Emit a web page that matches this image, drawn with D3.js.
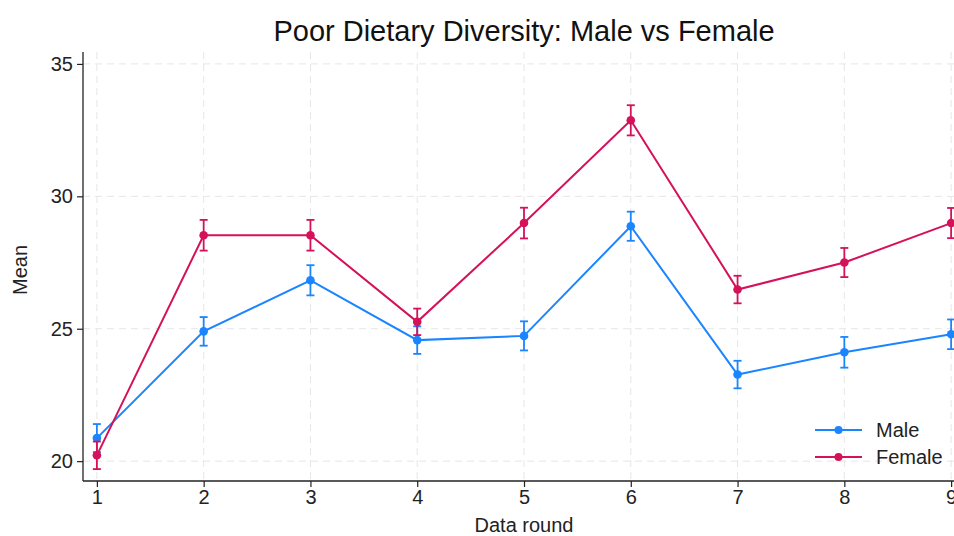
<!DOCTYPE html>
<html>
<head>
<meta charset="utf-8">
<script src="https://cdn.jsdelivr.net/npm/d3@7"></script>
<style>
  html, body { margin: 0; padding: 0; background: #fff; }
  svg { display: block; font-family: "Liberation Sans", Arial, sans-serif; }
</style>
</head>
<body>
<svg id="chart" width="954" height="536"></svg>
<script>
// Survey rounds and mean poor-dietary-diversity scores by sex, with CI half-widths
const rounds = [1, 2, 3, 4, 5, 6, 7, 8, 9];
const maleMean = [20.87, 24.9, 26.83, 24.57, 24.73, 28.87, 23.27, 24.11, 24.79];
const maleErr = [0.53, 0.54, 0.57, 0.52, 0.55, 0.55, 0.52, 0.58, 0.56];
const femaleMean = [20.22, 28.53, 28.53, 25.26, 28.99, 32.87, 26.48, 27.5, 28.99];
const femaleErr = [0.52, 0.58, 0.58, 0.5, 0.58, 0.57, 0.52, 0.55, 0.57];
const yTicks = [20, 25, 30, 35];
const seriesNames = ["Male", "Female"];
const seriesColors = ["#1a85ff", "#d41159"];

const svg = d3.select("#chart");
const margin = { left: 83, top: 52, bottom: 481, right: 965 };

const x = d3.scaleLinear().domain([0.87, 9.13]).range([margin.left, margin.right]);
const y = d3.scaleLinear().domain([19.25, 35.45]).range([margin.bottom, margin.top]);

const series = [
  { name: seriesNames[0], color: seriesColors[0], mean: maleMean, err: maleErr },
  { name: seriesNames[1], color: seriesColors[1], mean: femaleMean, err: femaleErr }
];

// grid
const grid = svg.append("g").attr("stroke", "#e6e6e6").attr("stroke-width", 1)
  .attr("stroke-dasharray", "7,5");
grid.selectAll(".gy").data(yTicks).join("line")
  .attr("x1", margin.left).attr("x2", 954)
  .attr("y1", d => y(d)).attr("y2", d => y(d));
grid.selectAll(".gx").data(rounds).join("line")
  .attr("x1", d => x(d)).attr("x2", d => x(d))
  .attr("y1", margin.top).attr("y2", margin.bottom);

// axes
const yAxis = d3.axisLeft(y).tickValues(yTicks).tickSize(6).tickPadding(4);
const gy = svg.append("g").attr("transform", `translate(${margin.left},0)`).call(yAxis);
const xAxis = d3.axisBottom(x).tickValues(rounds).tickSize(6).tickPadding(3);
const gx = svg.append("g").attr("transform", `translate(0,${margin.bottom})`).call(xAxis);
[gx, gy].forEach(g => {
  g.select(".domain").attr("stroke", "#222").attr("stroke-width", 1.3);
  g.selectAll(".tick line").attr("stroke", "#222").attr("stroke-width", 1.2);
  g.selectAll(".tick text").attr("fill", "#222").attr("font-size", 20)
    .attr("font-family", "Liberation Sans, Arial, sans-serif");
});
gy.select(".domain").attr("d", `M0,${margin.top}V${margin.bottom}`);
gx.select(".domain").attr("d", `M${margin.left},0H${margin.right}`);

// series lines, error bars, markers
const line = d3.line().x((d, i) => x(rounds[i])).y(d => y(d));
series.forEach(s => {
  const g = svg.append("g");
  g.append("path").attr("d", line(s.mean)).attr("fill", "none")
    .attr("stroke", s.color).attr("stroke-width", 2);
  const eb = g.selectAll(".eb").data(s.mean).join("g").attr("stroke", s.color).attr("stroke-width", 1.8);
  eb.append("line").attr("x1", (d, i) => x(rounds[i])).attr("x2", (d, i) => x(rounds[i]))
    .attr("y1", (d, i) => y(d - s.err[i])).attr("y2", (d, i) => y(d + s.err[i]));
  eb.append("line").attr("x1", (d, i) => x(rounds[i]) - 4).attr("x2", (d, i) => x(rounds[i]) + 4)
    .attr("y1", (d, i) => y(d - s.err[i])).attr("y2", (d, i) => y(d - s.err[i]));
  eb.append("line").attr("x1", (d, i) => x(rounds[i]) - 4).attr("x2", (d, i) => x(rounds[i]) + 4)
    .attr("y1", (d, i) => y(d + s.err[i])).attr("y2", (d, i) => y(d + s.err[i]));
  g.selectAll("circle").data(s.mean).join("circle")
    .attr("cx", (d, i) => x(rounds[i])).attr("cy", d => y(d)).attr("r", 4.3)
    .attr("fill", s.color);
});

// title and axis titles
svg.append("text").attr("x", 524).attr("y", 41).attr("text-anchor", "middle")
  .attr("font-size", 29).attr("fill", "#111").text("Poor Dietary Diversity: Male vs Female");
svg.append("text").attr("x", 524).attr("y", 532).attr("text-anchor", "middle")
  .attr("font-size", 20).attr("fill", "#222").text("Data round");
svg.append("text").attr("transform", "translate(27,270) rotate(-90)").attr("text-anchor", "middle")
  .attr("font-size", 20).attr("fill", "#222").text("Mean");

// legend
const legend = svg.append("g").attr("transform", "translate(815,430)");
series.forEach((s, i) => {
  const row = legend.append("g").attr("transform", `translate(0,${i * 27})`);
  row.append("line").attr("x1", 0).attr("x2", 47).attr("stroke", s.color).attr("stroke-width", 2);
  row.append("circle").attr("cx", 23.5).attr("r", 4).attr("fill", s.color);
  row.append("text").attr("x", 61).attr("y", 7).attr("font-size", 20).attr("fill", "#222").text(s.name);
});
</script>
</body>
</html>
